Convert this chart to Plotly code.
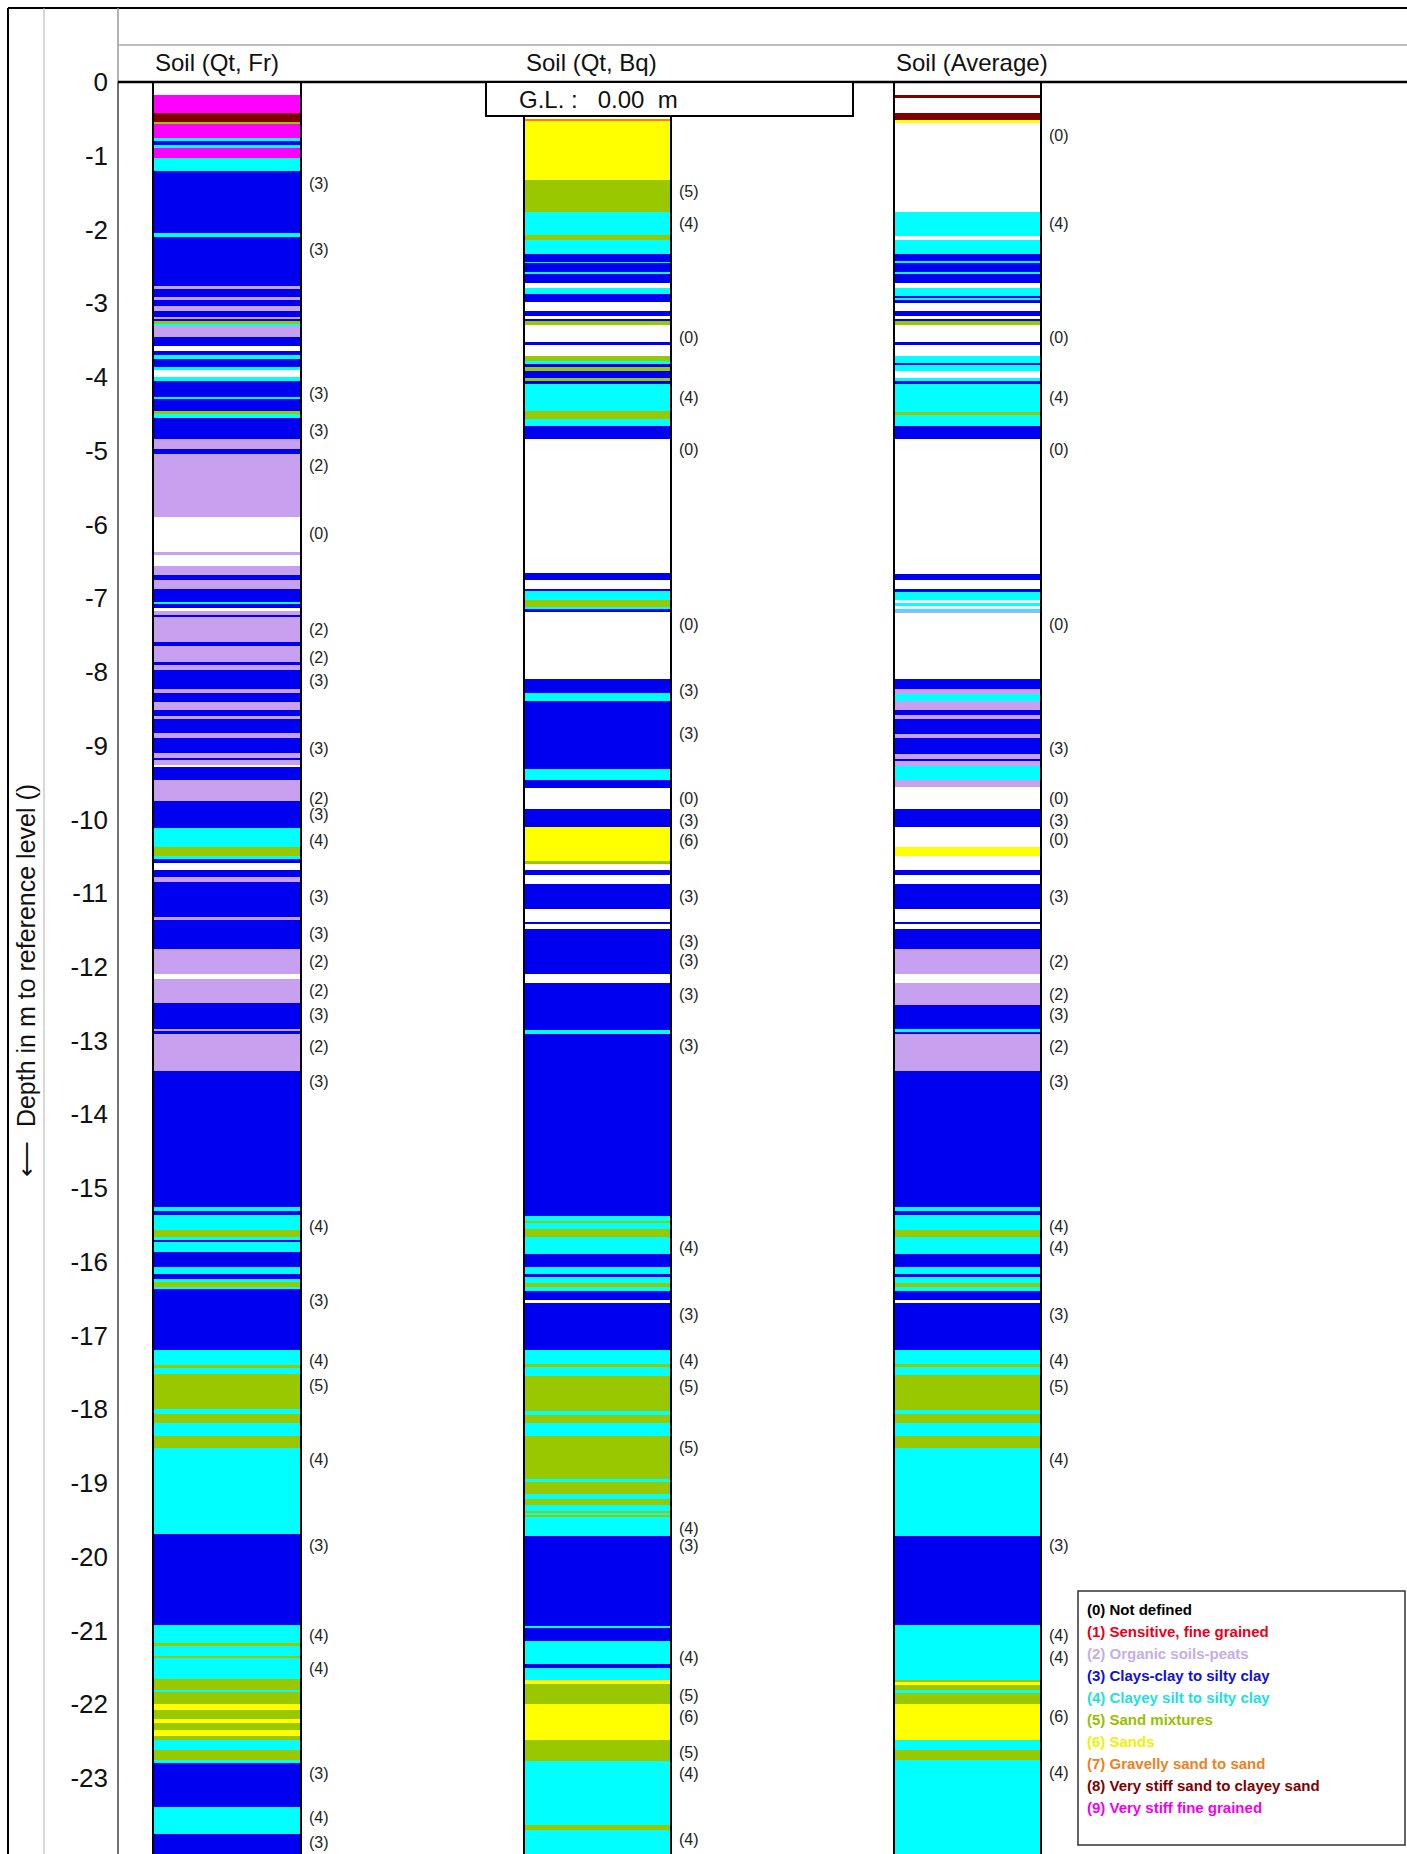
import plotly.graph_objects as go

# ---------------- data ----------------
soil_classes = [0, 1, 2, 3, 4, 5, 6, 7, 8, 9]
soil_colors = ["#FFFFFF", "#FF0000", "#C8A0F0", "#0000F0", "#00FFFF",
               "#99C800", "#FFFF00", "#FF8000", "#800000", "#FF00FF"]
legend_labels = ["(0) Not defined", "(1) Sensitive, fine grained", "(2) Organic soils-peats",
                 "(3) Clays-clay to silty clay", "(4) Clayey silt to silty clay",
                 "(5) Sand mixtures", "(6) Sands", "(7) Gravelly sand to sand",
                 "(8) Very stiff sand to clayey sand", "(9) Very stiff fine grained"]
legend_text_colors = ["#000000", "#E8001C", "#C4AEE8", "#1010D8", "#20E0E0",
                      "#99C000", "#F0F000", "#F08020", "#800000", "#F000F0"]

column_titles = ["Soil (Qt, Fr)", "Soil (Qt, Bq)", "Soil (Average)"]
ground_level_text = "G.L. :   0.00  m"
y_title = "\u27f5  Depth in m to reference level ()"

depth_ticks = list(range(0, -25, -1))
depth_tick_labels = [str(v) for v in depth_ticks]
bottom_depth = 24.1

# Column 1: Soil (Qt, Fr) -- layer top depths (m) and soil class
c1_top = [0.00, 0.18, 0.42, 0.54, 0.57, 0.76, 0.80, 0.86, 0.89, 1.03,
          1.21, 2.05, 2.10, 2.77, 2.81, 2.92, 2.95, 3.04, 3.10, 3.19,
          3.22, 3.24, 3.28, 3.31, 3.46, 3.58, 3.65, 3.70, 3.76, 3.86,
          3.90, 4.00, 4.05, 4.28, 4.30, 4.46, 4.50, 4.55, 4.84, 4.98,
          5.05, 5.90, 6.37, 6.42, 6.56, 6.68, 6.75, 6.88, 7.05, 7.08,
          7.13, 7.17, 7.24, 7.26, 7.60, 7.65, 7.87, 7.90, 7.98, 8.23,
          8.29, 8.41, 8.52, 8.60, 8.64, 8.83, 8.89, 9.10, 9.17, 9.20,
          9.26, 9.29, 9.46, 9.75, 10.12, 10.37, 10.50, 10.54, 10.59, 10.69,
          10.78, 10.85, 11.32, 11.37, 11.76, 12.10, 12.16, 12.49, 12.84, 12.87,
          12.91, 13.41, 15.26, 15.31, 15.36, 15.57, 15.66, 15.71, 15.73, 15.87,
          16.07, 16.16, 16.23, 16.27, 16.34, 16.37, 17.20, 17.40, 17.44, 17.52,
          18.00, 18.06, 18.18, 18.36, 18.53, 19.69, 20.92, 21.17, 21.21, 21.34,
          21.37, 21.65, 21.80, 21.83, 22.00, 22.08, 22.20, 22.25, 22.35, 22.43,
          22.48, 22.62, 22.76, 22.80, 23.39, 23.76]
c1_soil = [0, 9, 8, 5, 9, 4, 3, 4, 9, 4,
           3, 4, 3, 2, 3, 2, 3, 2, 3, 2,
           3, 5, 4, 2, 3, 0, 3, 4, 3, 4,
           0, 4, 3, 4, 3, 5, 4, 3, 2, 3,
           2, 0, 2, 0, 2, 3, 2, 3, 4, 3,
           0, 2, 3, 2, 3, 2, 3, 2, 3, 2,
           3, 2, 3, 2, 3, 2, 3, 2, 3, 2,
           0, 3, 2, 3, 4, 5, 4, 3, 0, 3,
           2, 3, 2, 3, 2, 0, 2, 3, 2, 3,
           2, 3, 4, 3, 4, 5, 4, 3, 4, 3,
           4, 3, 4, 5, 4, 3, 4, 5, 4, 5,
           4, 5, 4, 5, 4, 3, 4, 5, 4, 5,
           4, 5, 4, 5, 6, 5, 6, 5, 6, 5,
           4, 5, 4, 3, 4, 3]

# Column 2: Soil (Qt, Bq)
c2_top = [0.46, 0.51, 0.53, 1.33, 1.76, 2.07, 2.14, 2.33, 2.45, 2.46,
          2.59, 2.61, 2.72, 2.79, 2.88, 2.99, 3.11, 3.17, 3.21, 3.24,
          3.30, 3.53, 3.56, 3.72, 3.78, 3.83, 3.86, 3.92, 4.01, 4.06,
          4.10, 4.46, 4.57, 4.66, 4.84, 6.66, 6.75, 6.87, 6.90, 7.02,
          7.12, 7.15, 7.19, 8.09, 8.29, 8.40, 9.31, 9.46, 9.57, 9.86,
          10.10, 10.57, 10.60, 10.68, 10.75, 10.88, 11.21, 11.39, 11.42, 11.49,
          12.09, 12.22, 12.86, 12.91, 15.38, 15.44, 15.47, 15.56, 15.66, 15.90,
          16.07, 16.17, 16.20, 16.28, 16.34, 16.39, 16.52, 16.56, 17.20, 17.39,
          17.43, 17.55, 18.02, 18.07, 18.19, 18.36, 18.94, 18.99, 19.15, 19.21,
          19.30, 19.39, 19.41, 19.43, 19.46, 19.72, 20.95, 20.97, 21.14, 21.45,
          21.51, 21.67, 21.72, 22.00, 22.49, 22.77, 23.63, 23.71]
c2_soil = [0, 7, 6, 5, 4, 5, 4, 3, 4, 3,
           4, 3, 0, 4, 3, 0, 3, 0, 3, 5,
           0, 3, 0, 5, 4, 3, 5, 3, 5, 3,
           4, 5, 4, 3, 0, 3, 0, 3, 4, 5,
           4, 3, 0, 3, 4, 3, 4, 3, 0, 3,
           6, 5, 0, 3, 0, 3, 0, 3, 0, 3,
           0, 3, 4, 3, 4, 5, 4, 5, 4, 3,
           4, 3, 4, 5, 4, 3, 0, 3, 4, 5,
           4, 5, 4, 5, 4, 5, 4, 5, 4, 5,
           4, 5, 4, 5, 4, 3, 4, 3, 4, 3,
           4, 6, 5, 6, 5, 4, 5, 4]

# Column 3: Soil (Average)
c3_top = [0.00, 0.18, 0.22, 0.42, 0.52, 0.56, 1.76, 2.09, 2.14, 2.33,
          2.43, 2.45, 2.59, 2.61, 2.72, 2.79, 2.90, 2.93, 2.96, 3.00,
          3.11, 3.17, 3.21, 3.24, 3.29, 3.53, 3.56, 3.72, 3.82, 3.84,
          3.92, 4.01, 4.06, 4.10, 4.48, 4.52, 4.66, 4.84, 6.67, 6.75,
          6.88, 6.92, 7.03, 7.07, 7.10, 7.14, 7.17, 7.20, 8.09, 8.23,
          8.30, 8.40, 8.52, 8.59, 8.64, 8.84, 8.90, 9.11, 9.18, 9.21,
          9.27, 9.46, 9.56, 9.86, 10.10, 10.37, 10.50, 10.68, 10.75, 10.88,
          11.21, 11.39, 11.42, 11.49, 11.76, 12.09, 12.22, 12.51, 12.84, 12.89,
          12.91, 13.41, 15.26, 15.31, 15.36, 15.57, 15.66, 15.90, 16.07, 16.17,
          16.20, 16.28, 16.34, 16.39, 16.52, 16.56, 17.20, 17.39, 17.43, 17.54,
          18.01, 18.06, 18.18, 18.36, 18.53, 19.72, 20.92, 21.67, 21.70, 21.74,
          21.81, 21.84, 22.00, 22.49, 22.62, 22.76]
c3_soil = [0, 8, 0, 8, 6, 0, 4, 0, 4, 3,
           4, 3, 4, 3, 0, 4, 3, 4, 3, 0,
           3, 0, 3, 5, 0, 3, 0, 4, 3, 4,
           0, 4, 3, 4, 5, 4, 3, 0, 3, 0,
           3, 4, 0, 4, 0, 4, 2, 0, 3, 2,
           4, 2, 3, 2, 3, 2, 3, 2, 3, 2,
           4, 2, 0, 3, 0, 6, 0, 3, 0, 3,
           0, 3, 0, 3, 2, 0, 2, 3, 4, 3,
           2, 3, 4, 3, 4, 5, 4, 3, 4, 3,
           4, 5, 4, 3, 0, 3, 4, 5, 4, 5,
           4, 5, 4, 5, 4, 3, 4, 5, 6, 5,
           4, 5, 6, 4, 5, 4]

# Zone labels next to each column
c1_lab_depth = [1.39, 2.29, 4.24, 4.75, 5.22, 6.14, 7.44, 7.82, 8.14, 9.06,
                9.73, 9.95, 10.30, 11.06, 11.57, 11.95, 12.34, 12.67, 13.10, 13.58,
                15.54, 16.54, 17.36, 17.70, 18.70, 19.86, 21.09, 21.54, 22.96, 23.55, 23.90]
c1_lab_text = ["(3)", "(3)", "(3)", "(3)", "(2)", "(0)", "(2)", "(2)", "(3)", "(3)",
               "(2)", "(3)", "(4)", "(3)", "(3)", "(2)", "(2)", "(3)", "(2)", "(3)",
               "(4)", "(3)", "(4)", "(5)", "(4)", "(3)", "(4)", "(4)", "(3)", "(4)", "(3)"]
c2_lab_depth = [1.50, 1.94, 3.49, 4.30, 5.00, 7.38, 8.27, 8.85, 9.73, 10.03,
                10.30, 11.06, 11.68, 11.94, 12.40, 13.09, 15.82, 16.74, 17.36, 17.71,
                18.54, 19.63, 19.87, 21.38, 21.90, 22.19, 22.67, 22.96, 23.86]
c2_lab_text = ["(5)", "(4)", "(0)", "(4)", "(0)", "(0)", "(3)", "(3)", "(0)", "(3)",
               "(6)", "(3)", "(3)", "(3)", "(3)", "(3)", "(4)", "(3)", "(4)", "(5)",
               "(5)", "(4)", "(3)", "(4)", "(5)", "(6)", "(5)", "(4)", "(4)"]
c3_lab_depth = [0.75, 1.94, 3.49, 4.30, 5.00, 7.38, 9.06, 9.73, 10.03, 10.29,
                11.06, 11.95, 12.40, 12.67, 13.10, 13.58, 15.54, 15.82, 16.74, 17.36,
                17.71, 18.70, 19.87, 21.09, 21.38, 22.19, 22.94]
c3_lab_text = ["(0)", "(4)", "(0)", "(4)", "(0)", "(0)", "(3)", "(0)", "(3)", "(0)",
               "(3)", "(2)", "(2)", "(3)", "(2)", "(3)", "(4)", "(4)", "(3)", "(4)",
               "(5)", "(4)", "(3)", "(4)", "(4)", "(6)", "(4)"]

# ---------------- layout geometry (pixels) ----------------
W, H = 1407, 1854
PL, PT = 118, 82          # plot-area left / top (depth 0)
FONT = "Liberation Sans, Arial, sans-serif"

col_left = [153, 524, 894]
col_right = [301, 671, 1041]
col_frame_top = [82, 116, 82]
columns = [(c1_top, c1_soil, c1_lab_depth, c1_lab_text),
           (c2_top, c2_soil, c2_lab_depth, c2_lab_text),
           (c3_top, c3_soil, c3_lab_depth, c3_lab_text)]


def px_x(X):
    return (X - PL) / (W - PL)


def px_y(Y):
    return (H - Y) / (H - PT)


color_of = dict(zip(soil_classes, soil_colors))

fig = go.Figure()
for i, (tops, soils, ldep, ltxt) in enumerate(columns):
    bottoms = tops[1:] + [bottom_depth]
    xs, ys, bases, cols = [], [], [], []
    for t, b, s in zip(tops, bottoms, soils):
        if s == 0:
            continue
        cx = (col_left[i] + col_right[i]) / 2
        xs.append(cx)
        bases.append(-t)
        ys.append(-(b - t))
        cols.append(color_of[s])
    fig.add_trace(go.Bar(
        x=xs, y=ys, base=bases, width=[col_right[i] - col_left[i]] * len(xs),
        marker=dict(color=cols, line=dict(width=0)),
        hoverinfo="skip", showlegend=False))
    fig.add_trace(go.Scatter(
        x=[col_right[i] + 8] * len(ldep), y=[-d for d in ldep], text=ltxt,
        mode="text", textposition="middle right",
        textfont=dict(family=FONT, size=16, color="#222222"),
        cliponaxis=False, hoverinfo="skip", showlegend=False))

shapes = []


def line(x0, y0, x1, y1, color="#000000", width=2):
    shapes.append(dict(type="line", xref="paper", yref="paper",
                       x0=px_x(x0), y0=px_y(y0), x1=px_x(x1), y1=px_y(y1),
                       line=dict(color=color, width=width), layer="above"))


# outer frame and header lines
line(8, 8, W, 8, "#000000", 2)
line(8, 8, 8, H, "#000000", 2)
line(44, 8, 44, H, "#B0B0B0", 1)
line(PL, 8, PL, PT, "#9A9A9A", 1.5)
line(PL, PT, PL, H, "#444444", 1.5)
line(PL, 45, W, 45, "#A8A8A8", 1.5)
line(PL, PT, W, PT, "#000000", 2.5)

# column frames
for i in range(3):
    line(col_left[i], col_frame_top[i], col_left[i], H, "#000000", 2)
    line(col_right[i], col_frame_top[i], col_right[i], H, "#000000", 2)

# G.L. box
shapes.append(dict(type="rect", xref="paper", yref="paper",
                   x0=px_x(486), y0=px_y(116), x1=px_x(853), y1=px_y(PT),
                   line=dict(color="#000000", width=2), fillcolor="#FFFFFF", layer="above"))
# legend box
shapes.append(dict(type="rect", xref="paper", yref="paper",
                   x0=px_x(1078), y0=px_y(1845), x1=px_x(1405), y1=px_y(1591),
                   line=dict(color="#333333", width=1.5), fillcolor="#FFFFFF", layer="above"))

annotations = []
for i, t in enumerate(column_titles):
    annotations.append(dict(xref="paper", yref="paper", x=px_x(col_left[i]), y=px_y(63),
                            text=t, showarrow=False, xanchor="left", yanchor="middle",
                            font=dict(family=FONT, size=24, color="#111111")))
annotations.append(dict(xref="paper", yref="paper", x=px_x(517), y=px_y(99),
                        text=ground_level_text.replace(" ", "&nbsp;"), showarrow=False,
                        xanchor="left", yanchor="middle",
                        font=dict(family=FONT, size=24, color="#111111")))
annotations.append(dict(xref="paper", yref="paper", x=px_x(26), y=px_y(981),
                        text=y_title, showarrow=False, textangle=-90,
                        xanchor="center", yanchor="middle",
                        font=dict(family=FONT, size=25, color="#111111")))
for k, (lab, c) in enumerate(zip(legend_labels, legend_text_colors)):
    annotations.append(dict(xref="paper", yref="paper", x=px_x(1085), y=px_y(1609 + 22.1 * k),
                            text="<b>" + lab + "</b>", showarrow=False,
                            xanchor="left", yanchor="middle",
                            font=dict(family=FONT, size=15, color=c)))

fig.update_layout(
    width=W, height=H,
    margin=dict(l=PL, r=0, t=PT, b=0, pad=0),
    paper_bgcolor="#FFFFFF", plot_bgcolor="#FFFFFF",
    barmode="overlay", bargap=0,
    showlegend=False,
    shapes=shapes, annotations=annotations,
    xaxis=dict(range=[PL, W], visible=False, fixedrange=True),
    yaxis=dict(range=[-24.03, 0], tickmode="array", tickvals=depth_ticks,
               ticktext=depth_tick_labels, showgrid=False, zeroline=False,
               showline=False, ticks="", ticklabelstandoff=9,
               tickfont=dict(family=FONT, size=26, color="#111111")),
)

fig.write_html("out.html", config={"displayModeBar": False},
               post_script="document.body.style.margin='0px';"
                           "document.body.style.overflow='hidden';")
